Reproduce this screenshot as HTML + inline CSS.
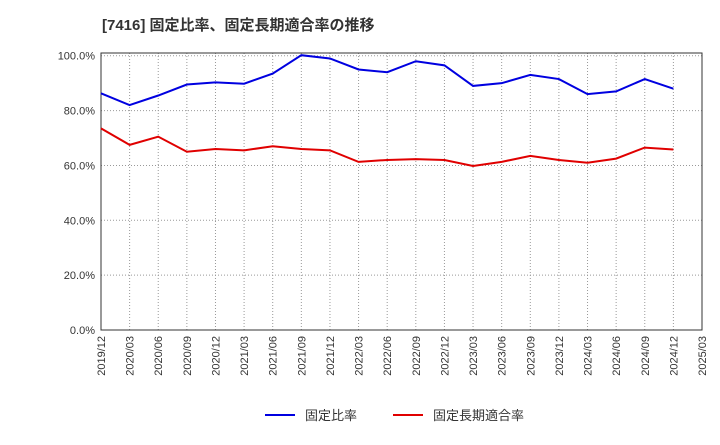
<!DOCTYPE html>
<html><head><meta charset="utf-8"><style>
body{margin:0;background:#fff;}
svg text{font-family:"Liberation Sans","Noto Sans CJK JP",sans-serif;}
</style></head><body>
<svg width="720" height="440" viewBox="0 0 720 440" id="c">
<text x="102" y="30" font-size="15" font-weight="bold" fill="#333">[7416]  固定比率、固定長期適合率の推移</text>
<g id="grid"></g><g id="axes"></g><g id="series"></g>
<g>
<line x1="265" y1="415" x2="295" y2="415" stroke="#0000e0" stroke-width="2"/>
<text x="305" y="420" font-size="13" fill="#333">固定比率</text>
<line x1="393" y1="415" x2="423" y2="415" stroke="#e00000" stroke-width="2"/>
<text x="433" y="420" font-size="13" fill="#333">固定長期適合率</text>
</g>
</svg>
<script>
const categories=["2019/12","2020/03","2020/06","2020/09","2020/12","2021/03","2021/06","2021/09","2021/12","2022/03","2022/06","2022/09","2022/12","2023/03","2023/06","2023/09","2023/12","2024/03","2024/06","2024/09","2024/12","2025/03"];
const fixedRatio=[86.3,82,85.5,89.5,90.3,89.8,93.5,100.2,99,95,94,98,96.5,89,90,93,91.5,86,87,91.5,88];
const longTermRatio=[73.5,67.5,70.5,65,66,65.5,67,66,65.5,61.3,62,62.3,62,59.8,61.3,63.5,62,61,62.5,66.5,65.8];
const yTicks=[0,20,40,60,80,100];
const yTickLabels=["0.0%","20.0%","40.0%","60.0%","80.0%","100.0%"];
const L=101,R=702,T=53,B=330,ymax=101;
const xs=i=>L+i*(R-L)/(categories.length-1);
const ys=v=>B-v*(B-T)/ymax;
const ns="http://www.w3.org/2000/svg";
function mk(p,t,a){const e=document.createElementNS(ns,t);for(const k in a)e.setAttribute(k,a[k]);p.appendChild(e);return e;}
const g=document.getElementById('grid'),ax=document.getElementById('axes'),s=document.getElementById('series');
yTicks.forEach((v,i)=>{
 const l=mk(g,'line',{x1:L,x2:R,y1:ys(v),y2:ys(v),stroke:'#999','stroke-dasharray':'1,2'});
 
 
 const t=mk(ax,'text',{x:L-6,y:ys(v)+4,'font-size':11,fill:'#333','text-anchor':'end'});
 t.textContent=yTickLabels[i];
 
 
});
categories.forEach((c,i)=>{
 const x=xs(i);
 const l=mk(g,'line',{x1:x,x2:x,y1:T,y2:B,stroke:'#999','stroke-dasharray':'1,2'});
 
 
 const t=mk(ax,'text',{x:x+4,y:B+6,'font-size':11,fill:'#333','text-anchor':'end',transform:`rotate(-90 ${x+4} ${B+6})`});
 t.textContent=c;
 
 
});
const fr=mk(ax,'rect',{x:L,y:T,width:R-L,height:B-T,fill:'none',stroke:'#333'});


function line(data,color,name){
 const p=mk(s,'polyline',{points:data.map((v,i)=>xs(i)+','+ys(v)).join(' '),fill:'none',stroke:color,'stroke-width':2});
 
 
}
line(fixedRatio,'#0000e0','fixed-ratio-line');
line(longTermRatio,'#e00000','long-term-ratio-line');
</script>
</body></html>
